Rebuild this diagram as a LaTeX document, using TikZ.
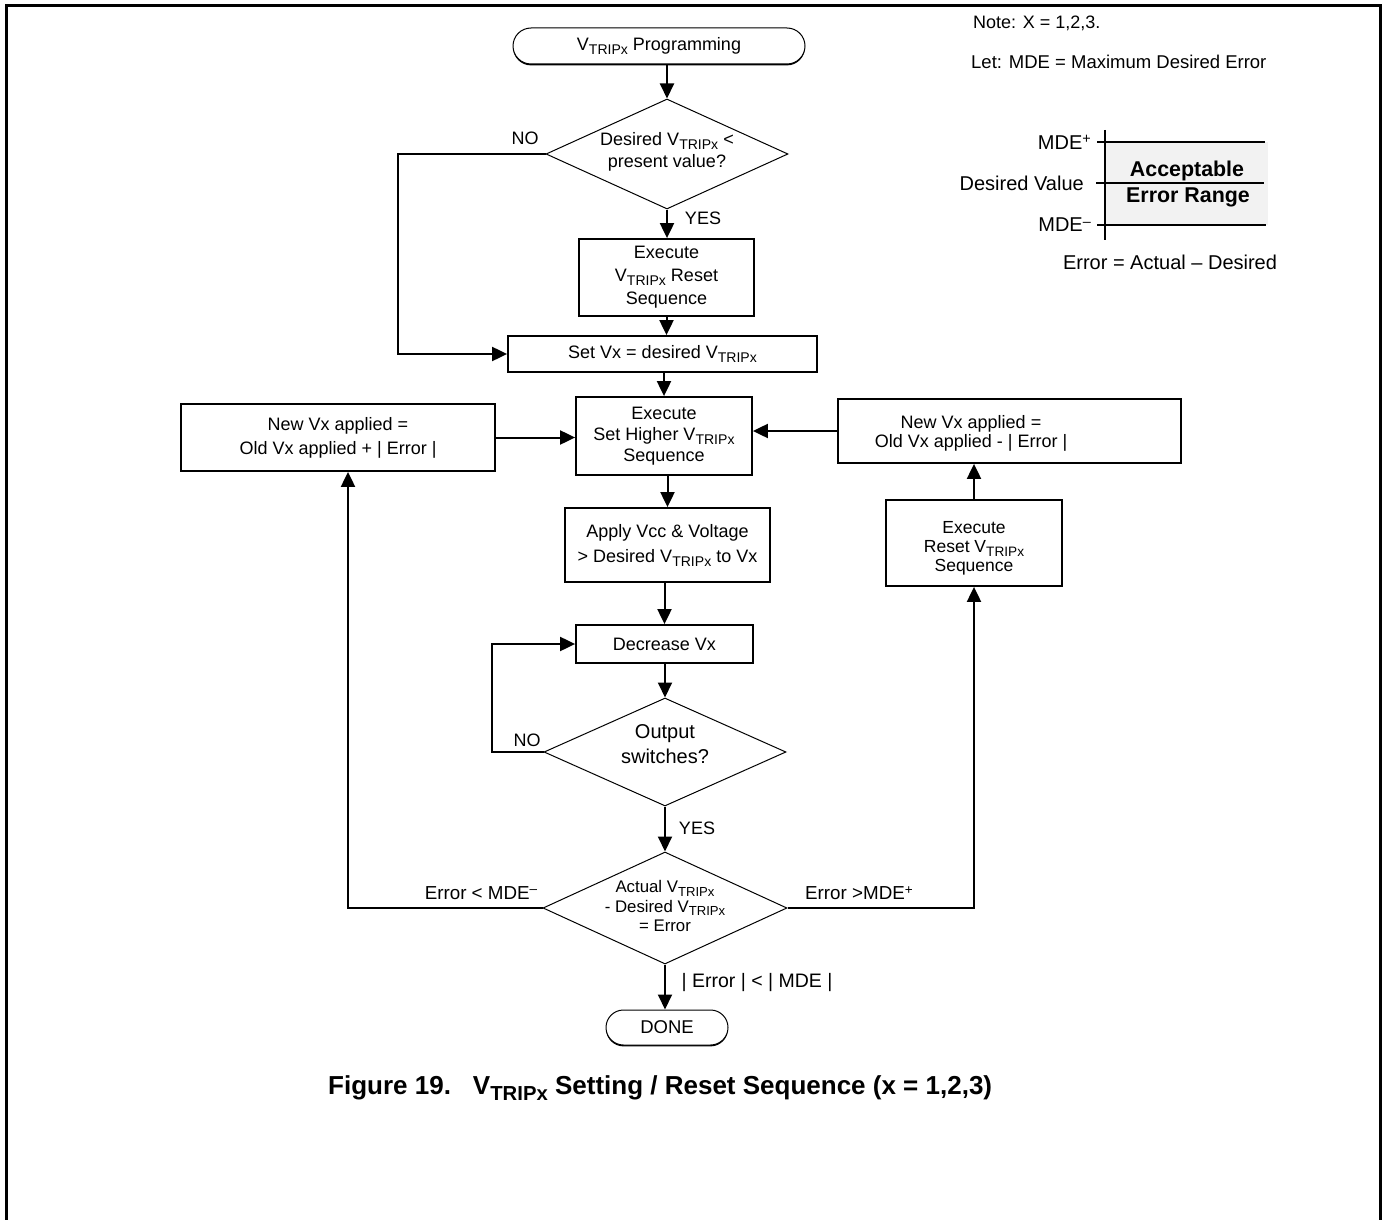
\documentclass[tikz,border=0pt]{standalone}
\usepackage{fontspec}
\setmainfont{Liberation Sans}
\usetikzlibrary{shapes.geometric,shapes.misc,arrows.meta,calc,shadows}
\newcommand{\vtr}{V\raisebox{-0.42ex}{\scalebox{0.78}{TRIPx}}}
\newcommand{\supp}[1]{\raisebox{0.55ex}{\scalebox{0.72}{#1}}}
\begin{document}
\begin{tikzpicture}[x=1pt,y=-1pt,
  every node/.style={font=\fontsize{18}{22}\selectfont},
  box/.style={draw, line width=1.8pt, inner sep=0pt, align=center, rectangle},
  dia/.style={diamond, draw, line width=1pt, inner sep=0pt},
  term/.style={rounded rectangle, draw, line width=1pt, inner sep=0pt, fill=white,
    drop shadow={shadow xshift=0pt, shadow yshift=-1.4pt, fill=black, opacity=1}},
  arr/.style={line width=2pt, -{Triangle[length=15pt,width=14pt]}},
  lbl/.style={inner sep=0pt}
]
\useasboundingbox (0,0) rectangle (1385,1220);
% frame
\draw[line width=3pt] (6,1220) -- (6,6) -- (1380,6) -- (1380,1220);

% legend
\node[lbl, anchor=west, font=\fontsize{18}{20}\selectfont] (note) at (973,23) {Note: X = 1,2,3.};
\node[lbl, anchor=west, font=\fontsize{18.5}{20}\selectfont] (let) at (971,62) {Let: MDE = Maximum Desired Error};
\fill[black!5] (1105,142) rectangle (1268,225);
\draw[line width=2pt] (1105,130) -- (1105,240);
\draw[line width=2pt] (1097,142) -- (1265,142);
\draw[line width=2pt] (1096,183) -- (1264,183);
\draw[line width=2pt] (1097,225) -- (1266,225);
\node[lbl, anchor=east, font=\fontsize{20}{22}\selectfont] (mdep) at (1091,142) {MDE\supp{+}};
\node[lbl, anchor=east, font=\fontsize{20}{22}\selectfont] (dv) at (1084,183) {Desired Value};
\node[lbl, anchor=east, font=\fontsize{20}{22}\selectfont] (mdem) at (1091,225) {MDE\supp{–}};
\node[lbl, font=\bfseries\fontsize{21.4}{24}\selectfont] (acc) at (1187,171) {Acceptable};
\node[lbl, font=\bfseries\fontsize{21.4}{24}\selectfont] (er) at (1188,197) {Error Range};
\node[lbl, font=\fontsize{20}{22}\selectfont] (eq) at (1170,262) {Error = Actual – Desired};

% flowchart nodes
\node[term, minimum width=292pt, minimum height=36pt] (start) at (659,46) {\vtr\ Programming};
\node[dia, minimum width=242pt, minimum height=110pt] (d1) at (667,154) {};
\node[lbl, align=center] (d1t) at (667,152) {Desired \vtr\ <\\present value?};
\node[box, minimum width=175pt, minimum height=77pt, font=\fontsize{18}{23}\selectfont] (b1) at (666.5,277.5) {Execute\\\vtr\ Reset\\Sequence};
\node[box, minimum width=309pt, minimum height=36pt] (b2) at (662.5,354) {Set Vx = desired \vtr};
\node[box, minimum width=176pt, minimum height=78pt, font=\fontsize{18}{21}\selectfont] (b3) at (664,436) {Execute\\Set Higher \vtr\\Sequence};
\node[box, minimum width=314pt, minimum height=67pt, font=\fontsize{18}{24}\selectfont] (bl) at (338,437.5) {New Vx applied =\\Old Vx applied + | Error |};
\node[box, minimum width=343pt, minimum height=64pt] (br) at (1009.5,431) {};
\node[lbl, align=center, font=\fontsize{18}{19}\selectfont] (brt) at (971,433) {New Vx applied =\\Old Vx applied - | Error |};
\node[box, minimum width=176pt, minimum height=86pt] (brs) at (974,543) {};
\node[lbl, align=center, font=\fontsize{17.5}{19}\selectfont] (brst) at (974,548) {Execute\\Reset \vtr\\Sequence};
\node[box, minimum width=205pt, minimum height=74pt, font=\fontsize{18}{25}\selectfont] (b4) at (667.5,545) {Apply Vcc \& Voltage\\> Desired \vtr\ to Vx};
\node[box, minimum width=177pt, minimum height=38pt] (b5) at (664.5,644) {Decrease Vx};
\node[dia, minimum width=242pt, minimum height=108pt] (d2) at (665,752) {};
\node[lbl, align=center, font=\fontsize{20}{25}\selectfont] (d2t) at (665,744) {Output\\switches?};
\node[dia, minimum width=244pt, minimum height=112pt] (d3) at (665,908) {};
\node[lbl, align=center, font=\fontsize{16.8}{19.5}\selectfont] (d3t) at (665,906) {Actual \vtr\\- Desired \vtr\\= Error};
\node[term, minimum width=122pt, minimum height=35pt, font=\fontsize{18.5}{20}\selectfont] (done) at (667,1027.5) {DONE};

% connectors
\draw[arr] (start.south -| d1.north) -- (d1.north);
\draw[arr] (d1.south) -- (d1.south |- b1.north);
\draw[arr] (b1.south) -- (b1.south |- b2.north);
\coordinate (n1) at (398,0);
\draw[arr] (d1.west) -- (d1.west -| n1) |- (b2.west);
\draw[arr] (b2.south -| b3.north) -- (b3.north);
\draw[arr] (bl.east) -- (bl.east -| b3.west);
\draw[arr] (br.west) -- (br.west -| b3.east);
\draw[arr] (b3.south -| b4.north) -- (b4.north);
\draw[arr] (b4.south -| b5.north) -- (b5.north);
\draw[arr] (b5.south -| d2.north) -- (d2.north);
\coordinate (n2) at (492,0);
\draw[arr] (d2.west) -- (d2.west -| n2) |- (b5.west);
\draw[arr] (d2.south) -- (d3.north);
\coordinate (n3) at (348,0);
\draw[arr] (d3.west) -- (d3.west -| n3) -- (bl.south -| n3);
\draw[arr] (d3.east) -| (brs.south);
\draw[arr] (brs.north) -- (brs.north |- br.south);
\draw[arr] (d3.south) -- (d3.south |- done.north);

% connector labels
\node[lbl] (no1) at (525,138) {NO};
\node[lbl] (yes1) at (703,218) {YES};
\node[lbl] (no2) at (527,740) {NO};
\node[lbl] (yes2) at (697,828) {YES};
\node[lbl, font=\fontsize{18.8}{22}\selectfont] (elt) at (481,893) {Error < MDE\supp{–}};
\node[lbl, font=\fontsize{18.8}{22}\selectfont] (egt) at (859,893) {Error >MDE\supp{+}};
\node[lbl, font=\fontsize{19.5}{22}\selectfont] (eok) at (757,982) {| Error | < | MDE |};

% caption
\node[lbl, anchor=west, font=\bfseries\fontsize{26}{29}\selectfont] (cap) at (328,1088) {Figure 19.\hspace{22pt}\vtr\ Setting / Reset Sequence (x = 1,2,3)};
\end{tikzpicture}
\end{document}
